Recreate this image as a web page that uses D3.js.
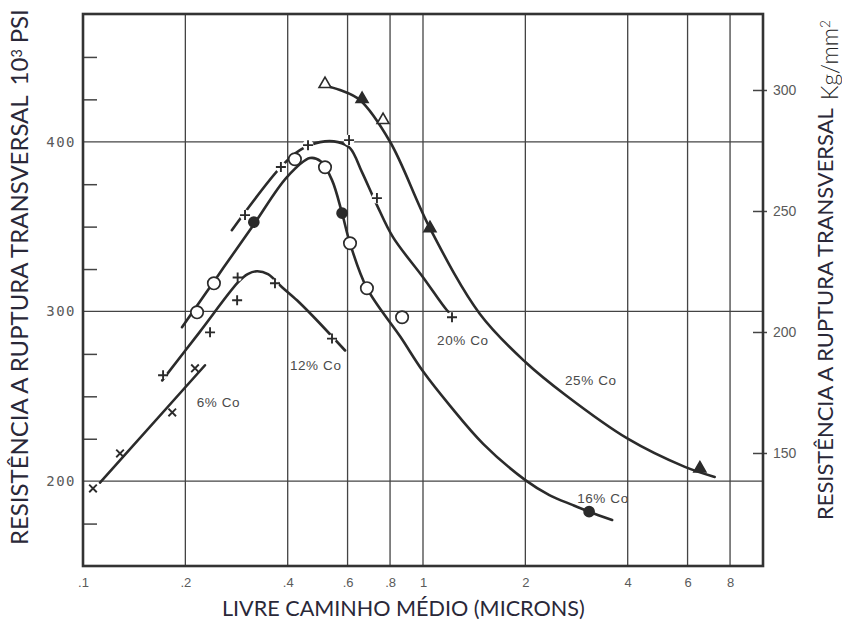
<!DOCTYPE html>
<html>
<head>
<meta charset="utf-8">
<script src="https://cdn.jsdelivr.net/npm/d3@7"></script>
<style>
  html, body { margin: 0; padding: 0; background: #fff; }
  svg { display: block; }
</style>
</head>
<body>
<svg id="chart" width="842" height="626"></svg>
<script>
// ---- axis ticks ----
const xTickValues = [0.1, 0.2, 0.4, 0.6, 0.8, 1, 2, 4, 6, 8];
const xTickLabels = [".1", ".2", ".4", ".6", ".8", "1", "2", "4", "6", "8"];
const xGridValues = [0.2, 0.4, 0.6, 0.8, 1, 2, 4, 6, 8];
const yGridValues = [200, 300, 400];
const yMinorValues = [175, 225, 250, 275, 325, 350, 375, 425, 450];
const kgTickValues = [150, 200, 250, 300];

// ---- 6% Co ----
const line6X = [0.1122, 0.2285];
const line6Y = [199.2, 268.3];
const pts6X = [0.107, 0.1285, 0.183, 0.2135];
const pts6Y = [195.7, 216.3, 240.5, 266.5];

// ---- 12% Co ----
const line12X = [0.171, 0.22, 0.2856, 0.305, 0.325, 0.35, 0.385, 0.426, 0.481, 0.59];
const line12Y = [259.4, 287.7, 317.1, 322, 323.7, 322, 314.3, 306.6, 296, 277];
const pts12X = [0.172, 0.2364, 0.285, 0.284, 0.367, 0.54];
const pts12Y = [262.4, 287.7, 320, 306.6, 316.6, 284];

// ---- 16% Co ----
const line16X = [0.1955, 0.25, 0.318, 0.398, 0.465, 0.50, 0.54, 0.578, 0.61, 0.684, 0.859, 1.0, 1.2, 1.503, 2.0, 2.353, 2.75, 3.08, 3.6];
const line16Y = [290.7, 321.4, 351.3, 379.2, 390.4, 388.5, 377.4, 357.9, 340.2, 313.7, 284.9, 264.7, 244.5, 222, 200.6, 191.8, 186, 182, 177.1];
const pts16OpenX = [0.2165, 0.2427, 0.42, 0.515, 0.61, 0.684, 0.868];
const pts16OpenY = [299.5, 316.6, 389.7, 385, 340.2, 313.7, 296.6];
const pts16FillX = [0.318, 0.578, 3.08];
const pts16FillY = [352.6, 357.9, 182];

// ---- 20% Co ----
const line20X = [0.274, 0.382, 0.4346, 0.498, 0.5623, 0.61, 0.6615, 0.732, 0.816, 1.0, 1.176, 1.242];
const line20Y = [347.9, 385.2, 395.1, 399.8, 399.8, 396.3, 382.1, 362.7, 343.8, 320.2, 300.7, 296];
const pts20X = [0.2996, 0.382, 0.459, 0.606, 0.732, 1.217];
const pts20Y = [356.8, 385.1, 398, 401, 366.8, 296.6];

// ---- 25% Co ----
const line25X = [0.5046, 0.57, 0.652, 0.8, 1.048, 1.47, 2.0, 2.63, 4.0, 5.89, 7.21];
const line25Y = [433.5, 430.5, 424.6, 400, 349.1, 298.5, 270.2, 250.6, 225, 208.4, 202.5];
const pts25OpenX = [0.515, 0.763];
const pts25OpenY = [434, 412.8];
const pts25FillX = [0.662, 1.048, 6.52];
const pts25FillY = [425.2, 349.1, 207.5];

// ---- curve labels (anchored in data units) ----
const seriesNames = ["6% Co", "12% Co", "16% Co", "20% Co", "25% Co"];
const seriesNameX = [0.216, 0.406, 2.84, 1.1, 2.616];
const seriesNameY = [243.5, 265.3, 187.4, 280, 256.5];

// ---- layout ----
const plot = { left: 83, right: 763, top: 14, bottom: 566 };
const ink = "#2b2b2b";
const textInk = "#2a2838";
const tickInk = "#5a5a5a";

const svg = d3.select("#chart");

const x = d3.scaleLog().domain([0.1, 10]).range([plot.left, plot.right]);
const y = d3.scaleLinear().domain([150, 475.3]).range([plot.bottom, plot.top]);
const yKg = d3.scaleLinear().domain([103.3, 331.4]).range([plot.bottom, plot.top]);

const zip = (xs, ys) => xs.map((v, i) => [v, ys[i]]);

// grid
const grid = svg.append("g").attr("stroke", "#444").attr("stroke-width", 1.3);
grid.selectAll("line.gx").data(xGridValues).join("line")
  .attr("x1", d => x(d)).attr("x2", d => x(d))
  .attr("y1", plot.top).attr("y2", plot.bottom);
grid.selectAll("line.gy").data(yGridValues).join("line")
  .attr("x1", plot.left).attr("x2", plot.right)
  .attr("y1", d => y(d)).attr("y2", d => y(d));

// left axis: inner minor ticks + outside labels
const leftAxis = d3.axisRight(y).tickValues(yMinorValues).tickSize(14).tickFormat("");
const gl = svg.append("g").attr("transform", `translate(${plot.left},0)`).call(leftAxis);
gl.select(".domain").remove();
gl.selectAll(".tick line").attr("stroke", "#444").attr("stroke-width", 1.5);

const leftLabels = d3.axisLeft(y).tickValues(yGridValues).tickSize(0).tickPadding(7);
const gll = svg.append("g").attr("transform", `translate(${plot.left},0)`).call(leftLabels);
gll.select(".domain").remove();
gll.selectAll(".tick text")
  .attr("font-family", "'DejaVu Sans Mono', monospace")
  .attr("font-size", 14).attr("letter-spacing", 1.5)
  .attr("fill", tickInk);

// bottom axis labels
const bottomAxis = d3.axisBottom(x).tickValues(xTickValues).tickSize(0).tickPadding(12)
  .tickFormat((d, i) => xTickLabels[i]);
const gb = svg.append("g").attr("transform", `translate(0,${plot.bottom})`).call(bottomAxis);
gb.select(".domain").remove();
gb.selectAll(".tick text")
  .attr("font-family", "'Liberation Sans', Arial, sans-serif")
  .attr("font-size", 13).attr("fill", tickInk);

// right axis in kg/mm²
const rightAxis = d3.axisRight(yKg).tickValues(kgTickValues).tickSize(14).tickPadding(6);
const gr = svg.append("g").attr("transform", `translate(${plot.right - 10},0)`).call(rightAxis);
gr.select(".domain").remove();
gr.selectAll(".tick line").attr("stroke", "#444").attr("stroke-width", 1.5);
gr.selectAll(".tick text")
  .attr("font-family", "'Liberation Sans', Arial, sans-serif")
  .attr("font-size", 14).attr("fill", tickInk);

// frame
svg.append("rect")
  .attr("x", plot.left).attr("y", plot.top)
  .attr("width", plot.right - plot.left).attr("height", plot.bottom - plot.top)
  .attr("fill", "none").attr("stroke", "#333").attr("stroke-width", 2.6);

// curves
const lineGen = d3.line().x(d => x(d[0])).y(d => y(d[1])).curve(d3.curveCatmullRom.alpha(0.5));
const curves = svg.append("g").attr("fill", "none").attr("stroke", ink)
  .attr("stroke-width", 2.6).attr("stroke-linecap", "round");
[[line6X, line6Y], [line12X, line12Y], [line16X, line16Y], [line20X, line20Y], [line25X, line25Y]]
  .forEach(([xs, ys]) => curves.append("path").attr("d", lineGen(zip(xs, ys))));

// markers
const marks = svg.append("g");
const plusPath = "M-5,0H5M0,-5V5";
const crossPath = "M-3.8,-3.8L3.8,3.8M-3.8,3.8L3.8,-3.8";

function crosses(xs, ys, path, halo) {
  const pts = zip(xs, ys);
  if (halo) {
    marks.selectAll(null).data(pts).join("circle")
      .attr("cx", d => x(d[0])).attr("cy", d => y(d[1])).attr("r", halo).attr("fill", "#fff");
  }
  marks.selectAll(null).data(pts).join("path")
    .attr("transform", d => `translate(${x(d[0])},${y(d[1])})`)
    .attr("d", path).attr("fill", "none").attr("stroke", ink).attr("stroke-width", 1.9);
}
function circles(xs, ys, filled) {
  marks.selectAll(null).data(zip(xs, ys)).join("circle")
    .attr("cx", d => x(d[0])).attr("cy", d => y(d[1]))
    .attr("r", filled ? 5 : 6.2)
    .attr("fill", filled ? ink : "#fff").attr("stroke", ink).attr("stroke-width", 1.7);
}
const tri = d3.symbol().type(d3.symbolTriangle).size(62);
function triangles(xs, ys, filled) {
  marks.selectAll(null).data(zip(xs, ys)).join("path")
    .attr("transform", d => `translate(${x(d[0])},${y(d[1])})`)
    .attr("d", tri())
    .attr("fill", filled ? ink : "#fff").attr("stroke", ink).attr("stroke-width", 1.6);
}

crosses(pts6X, pts6Y, crossPath, 0);
crosses(pts12X, pts12Y, plusPath, 4);
crosses(pts20X, pts20Y, plusPath, 5.5);
circles(pts16OpenX, pts16OpenY, false);
circles(pts16FillX, pts16FillY, true);
triangles(pts25OpenX, pts25OpenY, false);
triangles(pts25FillX, pts25FillY, true);

// curve labels
svg.append("g").selectAll("text").data(seriesNames).join("text")
  .attr("x", (d, i) => x(seriesNameX[i]))
  .attr("y", (d, i) => y(seriesNameY[i]))
  .attr("font-family", "'Liberation Sans', Arial, sans-serif")
  .attr("font-size", 13.5).attr("letter-spacing", 0.6)
  .attr("fill", "#4a4a4a")
  .text(d => d);

// titles
function fitWidth(sel, target) {
  const w = sel.node().getComputedTextLength();
  sel.attr("font-size", parseFloat(sel.attr("font-size")) * target / w);
}
const titleFont = "Lato, 'Open Sans', sans-serif";

const xTitle = svg.append("text")
  .attr("x", 222).attr("y", 616)
  .attr("font-family", titleFont).attr("font-size", 18)
  .attr("fill", textInk)
  .text("LIVRE CAMINHO MÉDIO (MICRONS)");
fitWidth(xTitle, 363);

const leftTitle = svg.append("text")
  .attr("transform", "translate(28,545) rotate(-90)")
  .attr("font-family", titleFont).attr("font-size", 18)
  .attr("fill", textInk);
leftTitle.append("tspan").text("RESISTÊNCIA A RUPTURA TRANSVERSAL");
leftTitle.append("tspan").attr("dx", 10).text("10");
leftTitle.append("tspan").attr("dy", -6).attr("font-size", "0.6em").text("3");
leftTitle.append("tspan").attr("dy", 6).attr("dx", 6).text("PSI");
fitWidth(leftTitle, 520);

const rightTitle = svg.append("text")
  .attr("transform", "translate(833,520) rotate(-90)")
  .attr("font-family", titleFont).attr("font-size", 18)
  .attr("fill", textInk)
  .text("RESISTÊNCIA A RUPTURA TRANSVERSAL");
fitWidth(rightTitle, 412);

const unitTitle = svg.append("text")
  .attr("transform", "translate(838,100) rotate(-90)")
  .attr("font-family", titleFont).attr("font-size", 20).attr("font-weight", 300)
  .attr("fill", "#222");
unitTitle.append("tspan").text("Kg/mm");
unitTitle.append("tspan").attr("dy", -8).attr("font-size", "0.6em").text("2");
fitWidth(unitTitle, 80);
</script>
</body>
</html>
